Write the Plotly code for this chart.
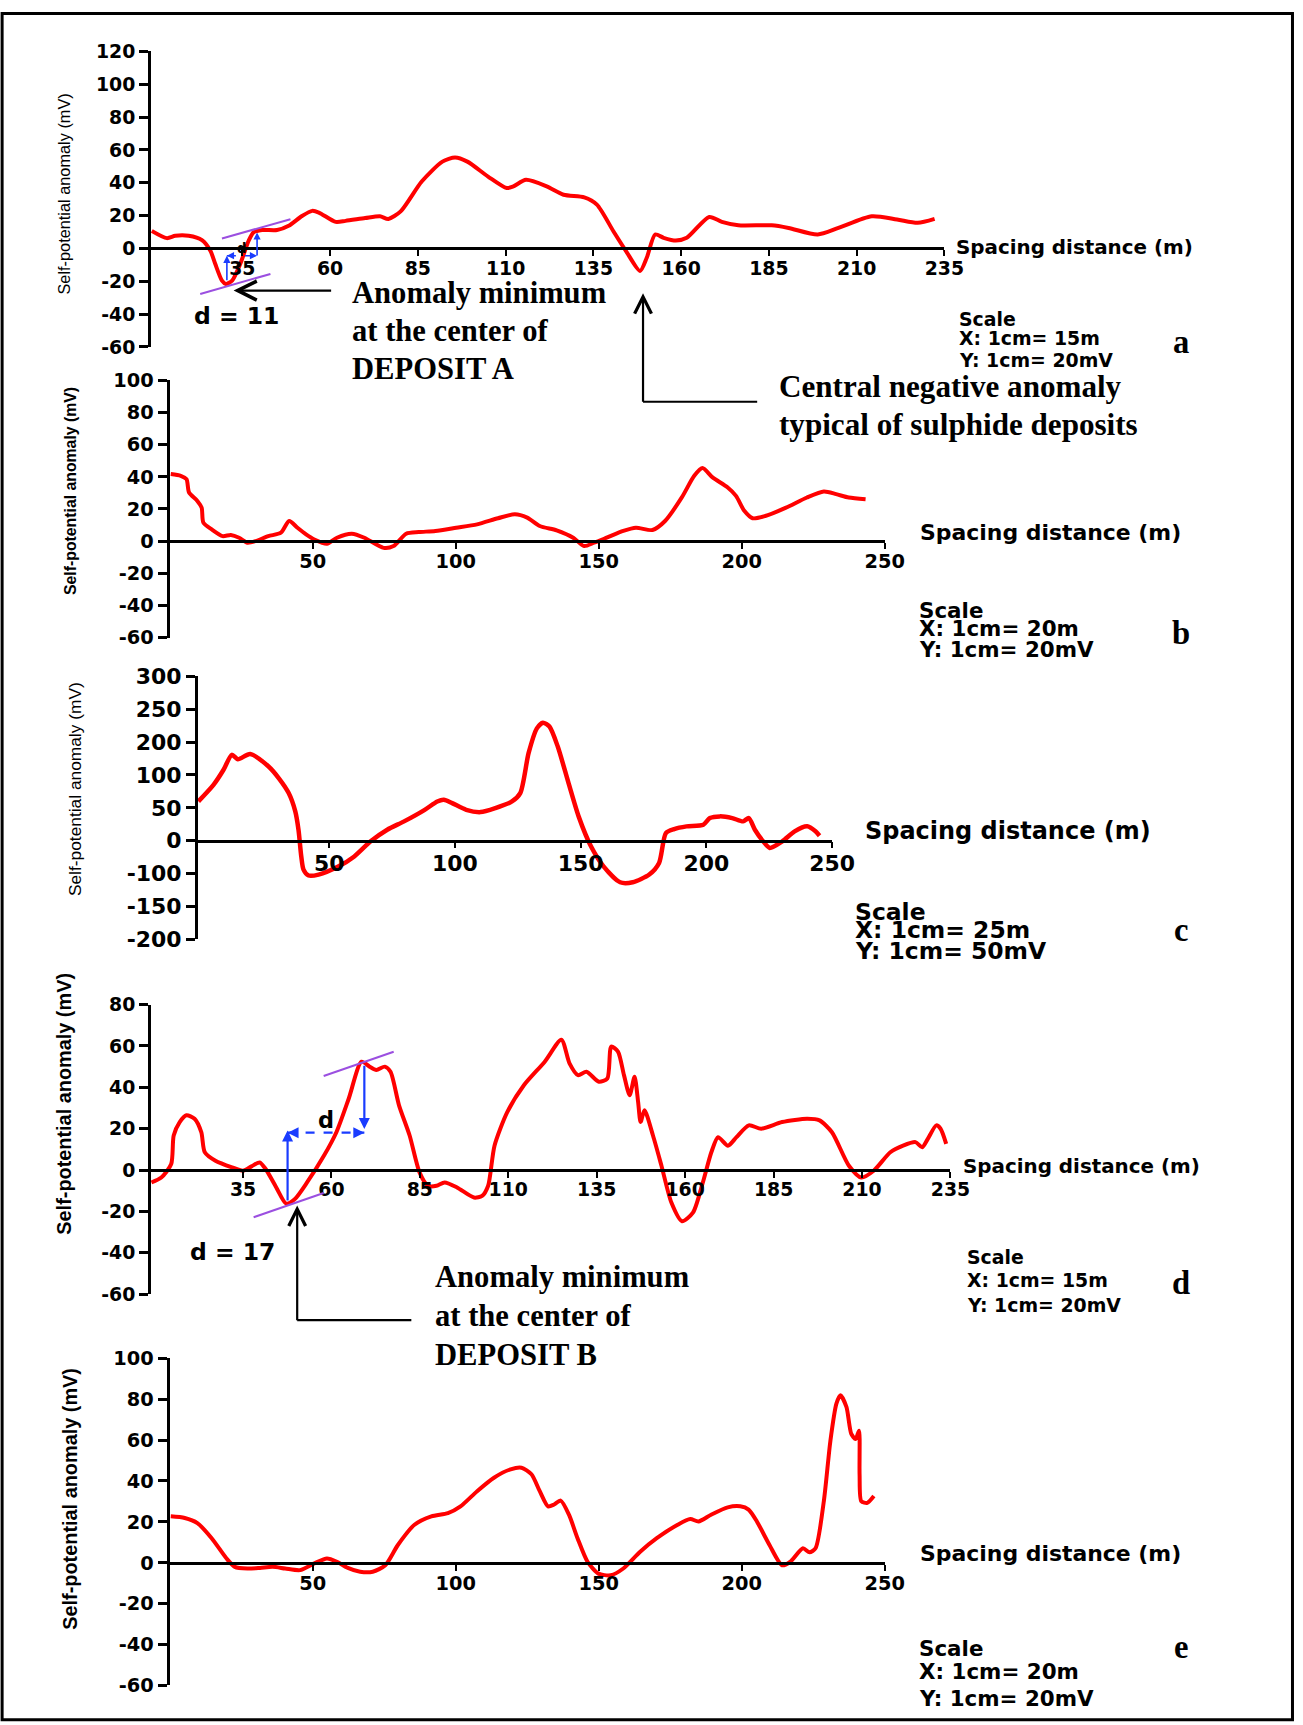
import plotly.graph_objects as go

# Placement targets below are given in the reference picture's pixel space.
# Calibration of the rendering pipeline (measured): picture = O + S * page.
# The body margin is removed by the post script, so page == figure pixels.
OFF = 0
SX, SY = 0.9796, 0.9892
OX, OY = 5.4, 7.1
W, H = 1318, 1735
FS = 1.02  # font scale compensation


def fx(r):
    return ((r - OX) / SX - OFF) / W


def fy(r):
    return 1 - ((r - OY) / SY - OFF) / H


# ---------------- data ----------------
a_x = [9.2, 13.5, 15.9, 19.7, 23.5, 25.9, 27.3, 29.2, 30.3, 32.1, 34.4, 36.8, 38.2, 40.6, 44.9, 48.2, 52.0, 54.9,
       56.8, 61.6, 64.4, 70, 74.2, 76.6, 80.1, 86.1, 92, 95.6, 99.1, 105, 110.3, 112.2, 115.8, 121.7, 126.5, 132.4,
       136, 140.7, 144.3, 148.3, 150.2, 152.6, 155, 158.5, 161.6, 168, 171.6, 176.3, 185.8, 190.6, 198.9, 204.8,
       214.3, 221.5, 227.4, 232.2]
a_y = [10.7, 6.3, 7.7, 7.7, 5.1, -1.4, -9.5, -19.6, -21.6, -19.6, -9.5, 4.7, 9.8, 11.2, 11.2, 13.8, 19.8, 22.9,
       21.9, 16.2, 16.8, 18.5, 19.6, 18, 22.6, 40.8, 52.9, 55.4, 52.9, 43.8, 36.8, 37.8, 41.8, 37.8, 32.7, 31.1,
       26.7, 10.5, -1.6, -13.7, -5.7, 8.5, 6.5, 4.8, 6.5, 19.2, 16.2, 14.1, 14.1, 12.5, 8.5, 12.5, 19.6, 17.6,
       15.6, 18]

b_x = [0.4, 3.9, 5.9, 6.8, 9.7, 11.2, 11.8, 14.7, 18.5, 21.4, 24.3, 27.2, 30.1, 34.5, 38.9, 41.8, 44.7, 47.7,
       50.6, 55, 58.5, 63.7, 68.1, 74.8, 78.3, 82.7, 87.1, 92.9, 100.2, 107.5, 114.8, 120.7, 125, 129.4, 135.3,
       141.1, 144.9, 148.4, 152.8, 158.6, 163, 168.8, 173.2, 179, 183.4, 186.3, 189.8, 195.1, 198, 200.9, 203.8,
       208.2, 215.5, 222.8, 228.7, 233, 237.4, 243.3]
b_y = [41.7, 40.6, 38.5, 30.2, 25, 20.8, 11.5, 7.3, 3.1, 3.8, 2.1, -1, 0, 3.1, 5.2, 12.5, 8.3, 4.2, 1, -1.7,
       2.1, 4.6, 2.1, -4.2, -3.1, 4.6, 5.6, 6.3, 8.3, 10.4, 14.2, 16.7, 14.6, 9.4, 6.7, 2.1, -3.1, -1, 2.1, 6.3,
       8.3, 6.9, 12.5, 27, 40.6, 45.4, 39.6, 33.3, 28.1, 18.8, 14.2, 15.6, 20.8, 27.1, 30.8, 29.2, 27.1, 26]

# panel c is stored in the axis' own (evenly spaced) units; tick labels are as printed
c_x = [-2, 4, 8, 11.3, 13.7, 18.6, 25.9, 30, 33.9, 36.5, 37.8, 38.9, 39.8, 41.8, 45.8, 53.8, 60, 66.5, 73.1,
       79.8, 88, 93, 95.6, 98.9, 104.5, 110.2, 116.1, 122.7, 126, 129.3, 132.6, 135, 137.6, 140.9, 145.2, 149.2,
       154.1, 159.1, 165.7, 170.7, 177.3, 181.2, 183.9, 187.2, 192.1, 198.8, 201.4, 205.4, 210.3, 214.6, 216.9,
       219.3, 222.6, 225.2, 230.2, 235.1, 240.1, 243.4, 245]
c_y = [59.9, 85, 108, 130.7, 124, 132, 113, 95, 72.5, 45, 16.7, -23.7, -44, -53, -51.7, -39, -24, -1, 16.7,
       29.4, 47, 59.7, 62.3, 57.2, 47, 43.5, 49.6, 59.7, 72.4, 133.2, 171, 179.7, 173.7, 143.3, 87.6, 37, -8.6,
       -39, -63.3, -63.3, -51.6, -34, 11.6, 17.7, 21.8, 24.3, 34.4, 37, 34.4, 29.4, 34.4, 16.7, -1, -11, -1,
       14.2, 21.8, 14.2, 7.6]

d_x = [9.1, 11.9, 14.7, 15.4, 17.1, 19, 21.3, 23.2, 24.2, 27.2, 31.9, 35, 37.4, 39.7, 41.4, 44.4, 47.2, 49.6,
       53.1, 57.9, 61.4, 64.9, 68.5, 70.8, 72.7, 75.1, 76.7, 79.1, 82.1, 84.9, 87.3, 89.7, 92, 95.5, 100.3,
       102.6, 104.3, 106.1, 109.7, 114.4, 120.3, 125, 127.3, 129.7, 132.1, 135.6, 138, 139.1, 141, 142.7, 144.3,
       145.7, 146.7, 147.4, 148.5, 150.9, 153.3, 156.1, 159.1, 162.2, 165, 167.4, 169.3, 172.1, 174.5, 178,
       181.5, 187.4, 194.5, 198, 201.5, 206.3, 209.8, 213.3, 218, 221.6, 225.1, 227, 228.6, 231, 232.2, 233.8]
d_y = [-6, -3.6, 2.9, 16.7, 23.2, 26.5, 24.8, 18.3, 8.6, 4.5, 1.3, -0.3, 1.8, 3.7, 0.5, -8.4, -16.2, -14.1, -6,
       7, 18.3, 34.6, 52.4, 50, 48.4, 50, 47.5, 31.3, 16.7, -1.1, -7.6, -7.6, -6, -8.4, -13.3, -12.5, -7.6,
       11.8, 28, 41, 52.4, 63, 51.6, 45.9, 47.5, 42.7, 44.3, 59.7, 57.3, 45.9, 36.2, 45.1, 32.9, 23.2, 28.9,
       16.7, 2.1, -15.7, -24.7, -20.6, -6, 8.6, 15.9, 11.8, 15.9, 21.6, 20, 23.2, 24.8, 24, 18.3, 2.1, -3.6,
       -0.3, 8.6, 11.8, 13.5, 11, 15.1, 21.6, 20, 12.7]

e_x = [0.4, 5.3, 9.7, 14.7, 19.9, 22.8, 27.2, 31.6, 36, 40.4, 45.6, 50.6, 55, 58.5, 62.3, 66.6, 71, 75.4, 79.8,
       85.6, 91.5, 97.3, 101.7, 107.5, 113.4, 119.2, 123, 126.5, 129.4, 132.3, 134.4, 136.7, 139.6, 142.6, 146.1,
       149.9, 154.2, 158.6, 164.5, 170.3, 177.6, 182, 184.9, 189.3, 195.1, 199.5, 202.4, 205.3, 209.7, 214.1,
       217, 221.4, 223.7, 225.8, 228.7, 231, 233.1, 234.5, 236.6, 238.3, 239.8, 241, 241.2, 241.8, 243.9, 246.2]
e_y = [22.7, 21.9, 19.4, 12, 2.1, -2, -2.8, -2.5, -2, -2.8, -3.6, -0.3, 2.1, 0.5, -2.5, -4.4, -4.4, -1.2, 8.7,
       18.6, 22.7, 24.3, 27.6, 35, 41.6, 45.7, 46.5, 43.3, 35, 27.6, 28.5, 30.4, 23.5, 12, 0.5, -5.3, -6.1,
       -2.8, 5.4, 12, 18.6, 21.4, 20.2, 23.5, 27.1, 27.6, 26, 20.2, 8.7, -1.2, 0.5, 7.1, 5.1, 7.1, 30.1, 59.7,
       77.8, 81.9, 76.2, 63, 60.5, 64.6, 43.3, 30.1, 29.3, 32.6]

a_xticks = [35, 60, 85, 110, 135, 160, 185, 210, 235]
a_yticks = [-60, -40, -20, 0, 20, 40, 60, 80, 100, 120]
b_xticks = [50, 100, 150, 200, 250]
b_yticks = [-60, -40, -20, 0, 20, 40, 60, 80, 100]
c_xticks = [50, 100, 150, 200, 250]
c_ytickvals = [-150, -100, -50, 0, 50, 100, 150, 200, 250]
c_yticktext = ['-200', '-150', '-100', '0', '50', '100', '200', '250', '300']
d_xticks = [35, 60, 85, 110, 135, 160, 185, 210, 235]
d_yticks = [-60, -40, -20, 0, 20, 40, 60, 80]
e_xticks = [50, 100, 150, 200, 250]
e_yticks = [-60, -40, -20, 0, 20, 40, 60, 80, 100]

# half-width construction (data units of each panel)
a_tan_top_x, a_tan_top_y = [29.2, 48.7], [6.1, 17.8]
a_tan_bot_x, a_tan_bot_y = [23.0, 43.0], [-27.7, -15.5]
a_arrow1_x, a_arrow1_y = [30.6, 30.6], [-20.3, -4.4]
a_arrow2_x, a_arrow2_y = [39.2, 39.2], [-5.2, 9.8]
a_dash_x, a_dash_y = [30.6, 39.2], [-4.4, -4.4]

d_tan_top_x, d_tan_top_y = [57.8, 77.6], [45.5, 57.2]
d_tan_bot_x, d_tan_bot_y = [38.0, 57.8], [-22.8, -11.1]
d_arrow1_x, d_arrow1_y = [47.6, 47.6], [-15.4, 19.1]
d_arrow2_x, d_arrow2_y = [69.3, 69.3], [51.1, 19.8]
d_dash_x, d_dash_y = [47.6, 69.3], [18.1, 18.1]

# ---------------- figure ----------------
SANS_B = 'DejaVu Sans'
SERIF = 'Liberation Serif'
RED = '#ff0000'
PURPLE = '#9b4fe0'
BLUE = '#1a3cff'

panels = [
    dict(x=a_x, y=a_y, xd=(156, 947), yd=(46.7, 343.3), xr=(9, 235), yr=(-60, 120),
         xt=a_xticks, yt=a_yticks, ytt=None, tfs=18.5, lw=4),
    dict(x=b_x, y=b_y, xd=(174.5, 887.5), yd=(376.7, 635), xr=(0, 250), yr=(-60, 100),
         xt=b_xticks, yt=b_yticks, ytt=None, tfs=19, lw=4),
    dict(x=c_x, y=c_y, xd=(202.7, 835), yd=(674, 937.7), xr=(-2.2, 250), yr=(-150, 250),
         xt=c_xticks, yt=c_ytickvals, ytt=c_yticktext, tfs=21.5, lw=4.5),
    dict(x=d_x, y=d_y, xd=(156, 953), yd=(1003.3, 1294), xr=(9, 235), yr=(-60, 80),
         xt=d_xticks, yt=d_yticks, ytt=None, tfs=18.5, lw=4),
    dict(x=e_x, y=e_y, xd=(174.5, 887.5), yd=(1358.3, 1686.7), xr=(0, 250), yr=(-60, 100),
         xt=e_xticks, yt=e_yticks, ytt=None, tfs=19, lw=4),
]

fig = go.Figure()
layout = dict(width=W, height=H, margin=dict(l=0, r=0, t=0, b=0), paper_bgcolor='white',
              plot_bgcolor='rgba(0,0,0,0)', showlegend=False)

for i, p in enumerate(panels, start=1):
    sfx = '' if i == 1 else str(i)
    xa, ya = 'x' + sfx, 'y' + sfx
    fig.add_trace(go.Scatter(x=p['x'], y=p['y'], mode='lines',
                             line=dict(color=RED, width=p['lw'], shape='spline', smoothing=0.7),
                             xaxis=xa, yaxis=ya, hoverinfo='skip'))
    y0, y1 = p['yr']
    top, bot = p['yd']
    zero_px = top + (y1 - 0) / (y1 - y0) * (bot - top)
    tf = dict(family=SANS_B, size=p['tfs'] * FS, color='black', weight='bold')
    layout['xaxis' + sfx] = dict(domain=[fx(p['xd'][0]), fx(p['xd'][1])], range=list(p['xr']),
                                 anchor='free', position=fy(zero_px), showline=True, linecolor='black',
                                 linewidth=2.5, ticks='outside', ticklen=6, tickwidth=2, tickcolor='black',
                                 tickvals=p['xt'], ticktext=[str(v) for v in p['xt']], tickfont=tf,
                                 ticklabelstandoff=-4,
                                 showgrid=False, zeroline=False, fixedrange=True)
    yax = dict(domain=[fy(bot), fy(top)], range=list(p['yr']), anchor=xa, showline=True,
               linecolor='black', linewidth=3, ticks='outside', ticklen=9, tickwidth=2.5,
               tickcolor='black', tickvals=p['yt'], tickfont=tf, showgrid=False, zeroline=False,
               fixedrange=True)
    yax['ticktext'] = p['ytt'] if p['ytt'] else [str(v) for v in p['yt']]
    layout['yaxis' + sfx] = yax

fig.update_layout(**layout)

ann = []
shapes = []


def text(x, y, t, size, family, bold=True, anchor='left', angle=0, color='black'):
    ann.append(dict(x=fx(x), y=fy(y), xref='paper', yref='paper', text=t, showarrow=False,
                    xanchor=anchor, yanchor='middle', textangle=angle,
                    font=dict(family=family, size=size * FS, color=color,
                              weight='bold' if bold else 'normal')))


# y-axis titles
YT = 'Self-potential anomaly (mV)'
text(69, 189.5, YT, 16, 'Liberation Sans', bold=False, anchor='center', angle=-90)
text(75, 488, YT, 15.5, 'Liberation Sans', bold=True, anchor='center', angle=-90)
text(79.5, 786.7, YT, 17, 'Liberation Sans', bold=False, anchor='center', angle=-90)
text(69, 1103, YT, 19.5, 'Liberation Sans', bold=True, anchor='center', angle=-90)
text(75, 1499.5, YT, 19.5, 'Liberation Sans', bold=True, anchor='center', angle=-90)

# x-axis titles
XT = 'Spacing distance (m)'
text(957, 243, XT, 19.5, SANS_B)
text(921, 530, XT, 21.5, SANS_B)
text(866, 829, XT, 23.5, SANS_B)
text(964, 1166, XT, 19.5, SANS_B)
text(921, 1554, XT, 21.5, SANS_B)

# scale blocks
scales = [
    (960, (315, 334, 356), 'X: 1cm= 15m', 'Y: 1cm= 20mV', 18.5),
    (920, (607.5, 625.5, 647), 'X: 1cm= 20m', 'Y: 1cm= 20mV', 21),
    (856, (910, 928.5, 950), 'X: 1cm= 25m', 'Y: 1cm= 50mV', 23),
    (968, (1256.7, 1280, 1305), 'X: 1cm= 15m', 'Y: 1cm= 20mV', 18.5),
    (920, (1650, 1673, 1700), 'X: 1cm= 20m', 'Y: 1cm= 20mV', 21),
]
for sx, ys, lx, ly, fs in scales:
    text(sx, ys[0], 'Scale', fs, SANS_B)
    text(sx, ys[1], lx, fs, SANS_B)
    text(sx, ys[2], ly, fs, SANS_B)

# panel letters
for letter, ly in zip(['a', 'b', 'c', 'd', 'e'], [338, 630, 928, 1283, 1648]):
    text(1183, ly, letter, 32, SERIF, anchor='center')

# serif callouts
text(354, 289, 'Anomaly minimum', 30, SERIF)
text(354, 327, 'at the center of', 30, SERIF)
text(354, 365, 'DEPOSIT A', 30, SERIF)
text(780, 383, 'Central negative anomaly', 30.5, SERIF)
text(780, 421.6, 'typical of sulphide deposits', 30.5, SERIF)
text(437, 1277, 'Anomaly minimum', 30, SERIF)
text(437, 1316, 'at the center of', 30, SERIF)
text(437, 1355, 'DEPOSIT B', 30, SERIF)

text(241.5, 312, 'd = 11', 23, SANS_B, anchor='center')
text(237.5, 1252, 'd = 17', 23, SANS_B, anchor='center')

# black pointer arrows (paper coordinates, tail offsets in pixels)
ann.append(dict(x=fx(238.3), y=fy(286.7), xref='paper', yref='paper', ax=97 / SX, ay=0, text='',
                showarrow=True, arrowhead=5, arrowsize=1.7, arrowwidth=2.2, arrowcolor='black'))
ann.append(dict(x=fx(646.5), y=fy(289.3), xref='paper', yref='paper', ax=0, ay=109 / SY, text='',
                showarrow=True, arrowhead=5, arrowsize=1.5, arrowwidth=2.2, arrowcolor='black'))
ann.append(dict(x=fx(301.7), y=fy(1205), xref='paper', yref='paper', ax=0, ay=115 / SY, text='',
                showarrow=True, arrowhead=5, arrowsize=1.5, arrowwidth=2.2, arrowcolor='black'))
shapes.append(dict(type='line', xref='paper', yref='paper', x0=fx(646.5), x1=fx(760.3),
                   y0=fy(398.3), y1=fy(398.3), line=dict(color='black', width=2.2)))
shapes.append(dict(type='line', xref='paper', yref='paper', x0=fx(301.7), x1=fx(415.5),
                   y0=fy(1320), y1=fy(1320), line=dict(color='black', width=2.2)))


def construction(xr, yr, tt_x, tt_y, tb_x, tb_y, a1x, a1y, a2x, a2y, dx, dy, lw, hs, lbl, lbl_size):
    for lx, ly in ((tt_x, tt_y), (tb_x, tb_y)):
        shapes.append(dict(type='line', xref=xr, yref=yr, x0=lx[0], x1=lx[1], y0=ly[0], y1=ly[1],
                           line=dict(color=PURPLE, width=2)))
    for axs, ays in ((a1x, a1y), (a2x, a2y)):
        ann.append(dict(x=axs[1], y=ays[1], ax=axs[0], ay=ays[0], xref=xr, yref=yr, axref=xr, ayref=yr,
                        text='', showarrow=True, arrowhead=2, arrowsize=hs, arrowwidth=lw,
                        arrowcolor=BLUE))
    shapes.append(dict(type='line', xref=xr, yref=yr, x0=dx[0], x1=dx[1], y0=dy[0], y1=dy[1],
                       line=dict(color=BLUE, width=lw, dash='dash')))
    ann.append(dict(x=dx[0], y=dy[0], xref=xr, yref=yr, ax=7, ay=0, text='', showarrow=True,
                    arrowhead=2, arrowsize=hs, arrowwidth=lw, arrowcolor=BLUE))
    ann.append(dict(x=dx[1], y=dy[1], xref=xr, yref=yr, ax=-7, ay=0, text='', showarrow=True,
                    arrowhead=2, arrowsize=hs, arrowwidth=lw, arrowcolor=BLUE))
    ann.append(dict(x=(dx[0] + dx[1]) / 2, y=dy[0], xref=xr, yref=yr, text=lbl, showarrow=False,
                    yanchor='bottom', yshift=-2,
                    font=dict(family=SANS_B, size=lbl_size * FS, color='black', weight='bold')))


construction('x', 'y', a_tan_top_x, a_tan_top_y, a_tan_bot_x, a_tan_bot_y, a_arrow1_x, a_arrow1_y,
             a_arrow2_x, a_arrow2_y, a_dash_x, a_dash_y, 1.6, 0.9, 'd', 13)
construction('x4', 'y4', d_tan_top_x, d_tan_top_y, d_tan_bot_x, d_tan_bot_y, d_arrow1_x, d_arrow1_y,
             d_arrow2_x, d_arrow2_y, d_dash_x, d_dash_y, 2.2, 1.0, 'd', 22)

# outer frame, as close to the reference frame as the figure area allows
fr_x0 = max(fx(7.5), 1.5 / W)
fr_x1 = min(fx(1294), 1 - 1.5 / W)
fr_y1 = min(fy(7.5), 1 - 1.5 / H)
fr_y0 = max(fy(1721), 1.5 / H)
shapes.append(dict(type='rect', xref='paper', yref='paper', x0=fr_x0, x1=fr_x1, y0=fr_y0, y1=fr_y1,
                   line=dict(color='black', width=3), fillcolor='rgba(0,0,0,0)'))

fig.update_layout(annotations=ann, shapes=shapes)

fig.write_html("out.html", config={'displayModeBar': False},
               post_script="document.body.style.margin='0px';document.body.style.overflow='hidden';")
